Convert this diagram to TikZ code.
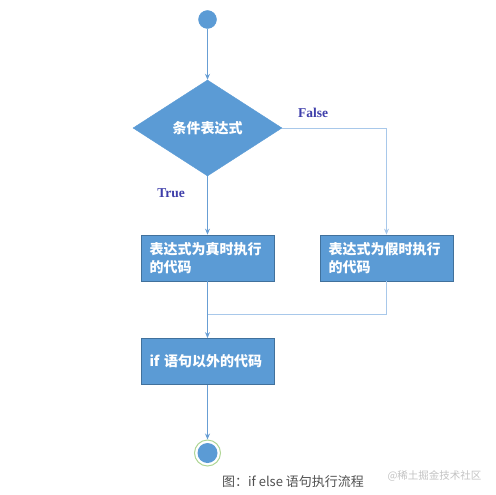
\documentclass[tikz,border=0pt]{standalone}
\usepackage{fontspec}
\setmainfont{Liberation Serif}
\newfontfamily\cjk{Noto Sans CJK SC}
\usetikzlibrary{shapes.geometric, arrows.meta, positioning}
\definecolor{FlowBlue}{RGB}{91, 155, 213}
\definecolor{FlowEdge}{RGB}{65, 113, 156}
\definecolor{FlowLine}{RGB}{104, 158, 212}
\definecolor{FlowLight}{RGB}{168, 200, 234}
\definecolor{FlowLabel}{RGB}{62, 62, 170}
\definecolor{FlowRing}{RGB}{176, 214, 150}
\definecolor{CapGray}{RGB}{80, 80, 80}
\definecolor{MarkGray}{RGB}{195, 195, 195}

\tikzset{
  procbox/.style={rectangle, fill=FlowBlue, draw=FlowEdge, line width=0.8pt,
    minimum width=133pt, minimum height=46pt, text width=116pt, align=left,
    inner sep=0pt, text=white, font=\cjk\bfseries\fontsize{14}{18}\selectfont},
  decision/.style={diamond, fill=FlowBlue, draw=FlowBlue, aspect=1.57,
    minimum width=149pt, minimum height=96pt, inner sep=0pt, text=white,
    font=\cjk\bfseries\fontsize{14}{16}\selectfont},
  terminal/.style={circle, fill=FlowBlue, draw=FlowBlue, minimum size=18pt, inner sep=0pt},
  endring/.style={circle, draw=FlowRing, line width=1pt, minimum size=26pt, inner sep=0pt,
    path picture={\fill[FlowBlue] (path picture bounding box.center) circle (10pt);}},
  flow/.style={draw=FlowLine, line width=0.9pt, -{Stealth[length=6pt, width=5pt]}},
  backline/.style={draw=FlowLight, line width=1pt},
  branch/.style={text=FlowLabel, font=\bfseries\fontsize{13.5}{15}\selectfont}
}

\begin{document}
\begin{tikzpicture}[x=1pt, y=-1pt]
  \useasboundingbox (0,0) rectangle (495,495);

  % nodes
  \node[terminal] (start) at (207.5,19.5) {};
  \node[decision] (cond) at (207.5,128) {条件表达式};
  \node[procbox] (truebox) at (207.5,258) {表达式为真时执行\\的代码};
  \node[procbox] (falsebox) at (386.5,258) {表达式为假时执行\\的代码};
  \node[procbox] (after) at (207.5,361.5) {if 语句以外的代码};
  \node[endring] (stop) at (207.5,453) {};
  \coordinate (join) at (207.5,314.5);

  % labels
  \node[branch] (lbltrue) at (171,193) {True};
  \node[branch] (lblfalse) at (313,113) {False};

  % connectors
  \draw[flow] (start) -- (cond);
  \draw[flow] (cond) -- (truebox);
  \draw[backline, -{Stealth[length=6pt, width=5pt]}] (cond.east) -| (falsebox.north);
  \draw[flow] (truebox) -- (after);
  \draw[backline] (falsebox.south) |- (join);
  \draw[flow] (after) -- (stop);

  % caption
  \node[text=CapGray, font=\cjk\fontsize{13}{15}\selectfont] (caption) at (293,482) {图：if else 语句执行流程};
  \node[text=MarkGray, font=\cjk\fontsize{10.5}{12}\selectfont] (mark) at (434.5,476) {@稀土掘金技术社区};
\end{tikzpicture}
\end{document}
